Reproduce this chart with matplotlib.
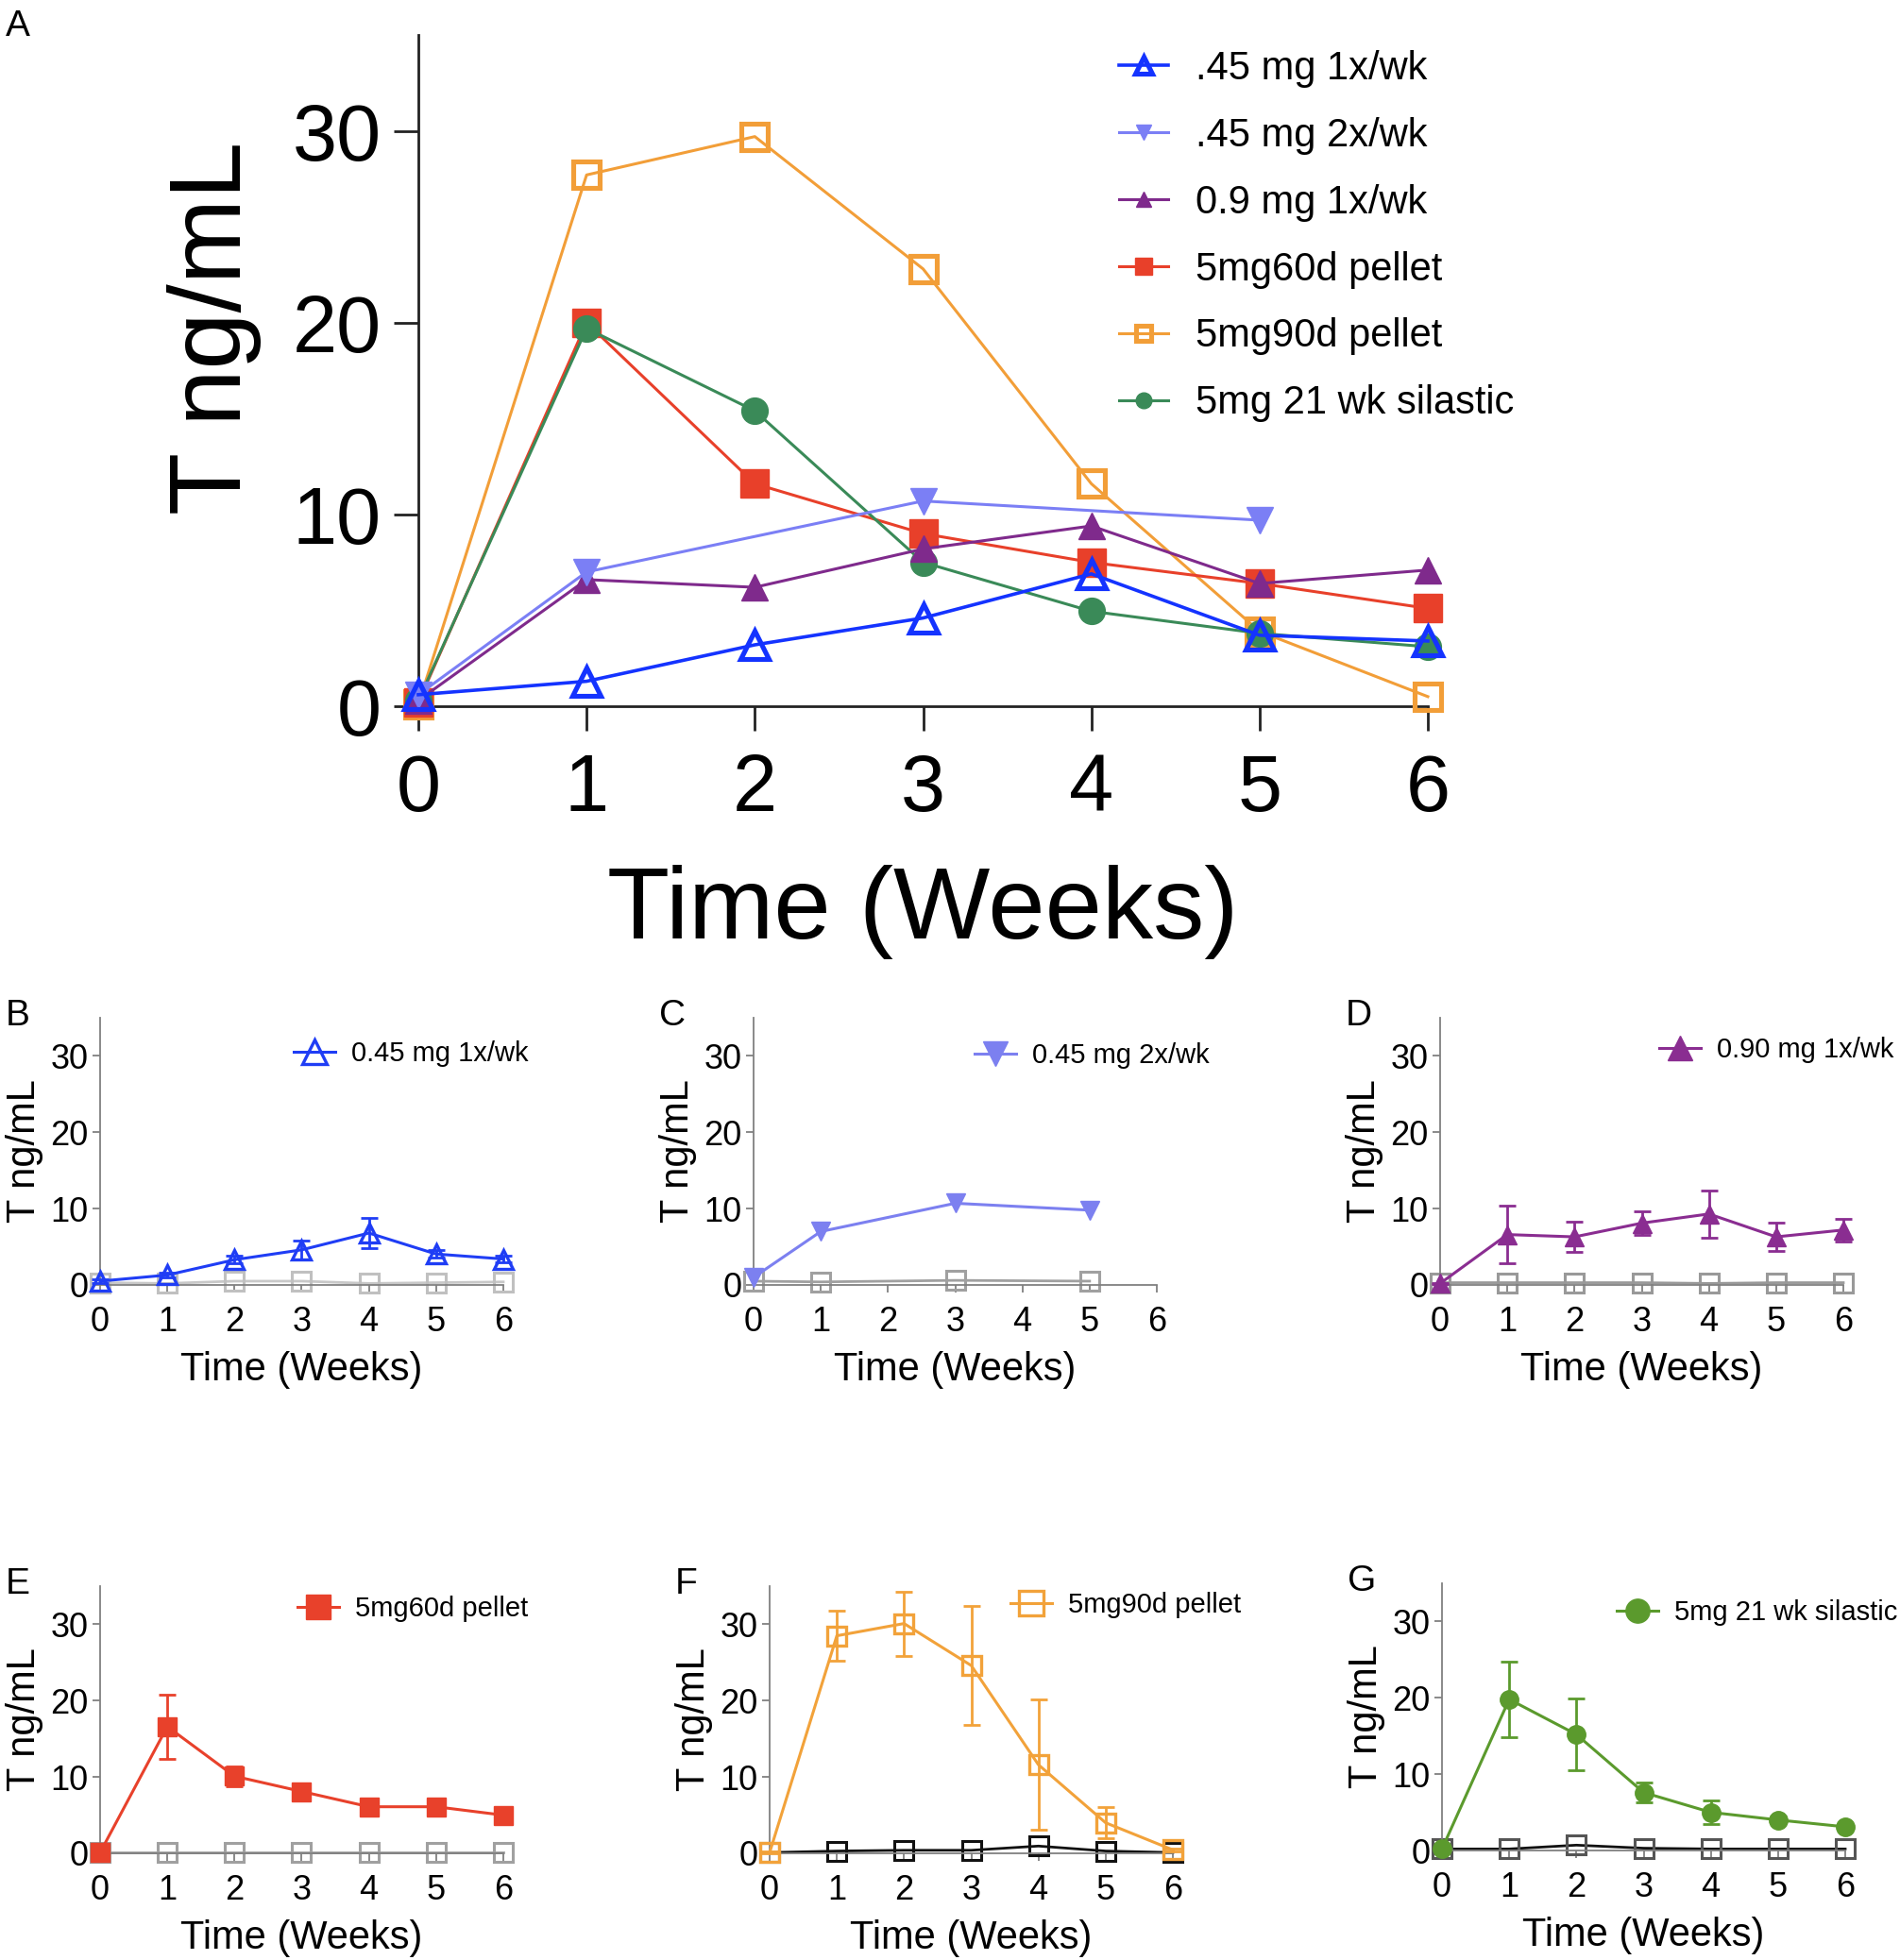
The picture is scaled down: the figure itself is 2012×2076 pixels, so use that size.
import matplotlib
matplotlib.use("Agg")
import matplotlib.pyplot as plt

plt.rcParams['font.family'] = ['Liberation Sans', 'DejaVu Sans']

W, H = 2012, 2076

weeks = [0, 1, 2, 3, 4, 5, 6]
weeks_2x = [0, 1, 3, 5]

# panel A, group means
a_045_1x = [0.6, 1.3, 3.2, 4.6, 6.9, 3.7, 3.4]
a_045_2x = [0.6, 7.0, 10.7, 9.7]
a_09_1x = [0.3, 6.6, 6.2, 8.2, 9.4, 6.4, 7.1]
a_60d = [0.2, 20.0, 11.6, 9.0, 7.5, 6.4, 5.1]
a_90d = [0.1, 27.7, 29.7, 22.8, 11.6, 3.9, 0.5]
a_sil = [0.3, 19.7, 15.4, 7.5, 4.95, 3.8, 3.1]

# panels B-G, mean, error and control
b_mean = [0.5, 1.3, 3.3, 4.6, 6.8, 4.05, 3.4]
b_err = [0.2, 0.3, 0.5, 1.2, 2.0, 0.5, 0.4]
b_ctrl = [0.3, 0.2, 0.5, 0.5, 0.2, 0.3, 0.4]

c_mean = [1.0, 7.0, 10.7, 9.8]
c_ctrl = [0.5, 0.4, 0.6, 0.5]

d_mean = [0.2, 6.6, 6.3, 8.1, 9.3, 6.3, 7.2]
d_err = [0.1, 3.8, 2.0, 1.6, 3.1, 1.9, 1.5]
d_ctrl = [0.3, 0.3, 0.3, 0.3, 0.2, 0.3, 0.3]

e_mean = [0.1, 16.6, 10.1, 8.1, 6.1, 6.1, 5.0]
e_err = [0.1, 4.2, 1.3, 0.6, 0.6, 1.1, 0.5]
e_ctrl = [0.1, 0.1, 0.1, 0.1, 0.1, 0.1, 0.1]

f_mean = [0.1, 28.5, 30.1, 24.6, 11.6, 4.0, 0.45]
f_err = [0.1, 3.3, 4.2, 7.8, 8.5, 2.0, 0.2]
f_ctrl = [0.1, 0.3, 0.4, 0.4, 0.95, 0.3, 0.1]

g_mean = [0.2, 19.8, 15.2, 7.6, 5.0, 4.0, 3.1]
g_err = [0.1, 4.9, 4.7, 1.3, 1.5, 0.4, 0.3]
g_ctrl = [0.2, 0.2, 0.7, 0.3, 0.2, 0.2, 0.2]


def px_axes(fig, left, right, y0, top):
    return fig.add_axes([left / W, 1 - y0 / H, (right - left) / W, (y0 - top) / H])


fig = plt.figure(figsize=(W / 100, H / 100), dpi=100)

# ---- panel A ----
ax = px_axes(fig, 443, 1512, 748, 37)
ax.plot(weeks, a_90d, color='#f29e38', marker='s', ms=20, mfc='none', mew=3.7, lw=2.2,
        label='5mg90d pellet', zorder=3, clip_on=False)
ax.plot(weeks, a_60d, color='#e8402a', marker='s', ms=21, lw=2.2,
        label='5mg60d pellet', zorder=4, clip_on=False)
ax.plot(weeks, a_sil, color='#3a8a58', marker='o', ms=20, lw=2.2,
        label='5mg 21 wk silastic', zorder=5, clip_on=False)
ax.plot(weeks, a_09_1x, color='#7f2a8c', marker='^', ms=20, lw=2.2,
        label='0.9 mg 1x/wk', zorder=6, clip_on=False)
ax.plot(weeks_2x, a_045_2x, color='#7b7ff5', marker='v', ms=20, lw=2.2,
        label='.45 mg 2x/wk', zorder=7, clip_on=False)
ax.plot(weeks, a_045_1x, color='#1433ff', marker='^', ms=21, mfc='none', mew=3.7, lw=2.6,
        label='.45 mg 1x/wk', zorder=8, clip_on=False)
ax.set_xlim(0, 6)
ax.set_ylim(0, 35)
ax.set_xticks(weeks)
ax.set_yticks([0, 10, 20, 30])
for s in ['top', 'right']:
    ax.spines[s].set_visible(False)
for s in ['left', 'bottom']:
    ax.spines[s].set_linewidth(2)
    ax.spines[s].set_color('#222222')
ax.tick_params(axis='both', labelsize=61, length=19, width=2, color='#222222')
ax.tick_params(axis='y', pad=9)
ax.tick_params(axis='x', pad=16)
ax.set_xlabel('Time (Weeks)', fontsize=78, labelpad=28)
ax.set_ylabel('T ng/mL', fontsize=78)
ax.yaxis.set_label_coords(-0.155, 0.564)
h, l = ax.get_legend_handles_labels()
order = ['.45 mg 1x/wk', '.45 mg 2x/wk', '0.9 mg 1x/wk', '5mg60d pellet', '5mg90d pellet', '5mg 21 wk silastic']
hh = [h[l.index(o)] for o in order]
fig.legend(hh, order, loc='upper left', bbox_to_anchor=(1185 / W, 1 - 53 / H), frameon=False,
           fontsize=30, handlelength=1.25, handletextpad=0.7, labelspacing=0.74,
           markerscale=0.6, borderpad=0, borderaxespad=0)
fig.text(6 / W, 1 - 10 / H, 'A', fontsize=28, va='top', ha='left')


# ---- small panels ----
def small_panel(left, y0, x, mean, err, ctrl, color, marker, label, ctrl_color, ctrl_edge,
                letter, leg_xy, mfc=None, xctrl=None):
    ax = px_axes(fig, left, left + 427, y0, y0 - 283)
    xc = x if xctrl is None else xctrl
    ax.plot(xc, ctrl, color=ctrl_color, marker='s', ms=14, mfc='none', mec=ctrl_edge, mew=2.2,
            lw=2, zorder=2, clip_on=False)
    if err is not None:
        ax.errorbar(x, mean, yerr=err, fmt='none', ecolor=color, capsize=6.5, elinewidth=2,
                    capthick=2, zorder=3, clip_on=False)
    kw = dict(color=color, marker=marker, ms=14, lw=2.2, zorder=4, clip_on=False)
    if mfc is not None:
        kw.update(mfc=mfc, mew=2.4)
    ax.plot(x, mean, label=label, **kw)
    ax.set_xlim(0, 6)
    ax.set_ylim(0, 35)
    ax.set_xticks(weeks)
    ax.set_yticks([0, 10, 20, 30])
    for s in ['top', 'right']:
        ax.spines[s].set_visible(False)
    for s in ['left', 'bottom']:
        ax.spines[s].set_linewidth(1.3)
        ax.spines[s].set_color('#808080')
    ax.tick_params(axis='both', labelsize=26, length=6, width=1.3, color='#808080')
    ax.tick_params(axis='y', pad=3)
    ax.tick_params(axis='x', pad=10)
    ax.set_xlabel('Time (Weeks)', fontsize=30, labelpad=9)
    ax.set_ylabel('T ng/mL', fontsize=30, labelpad=5)
    ax.legend(loc='center left', bbox_to_anchor=(leg_xy[0] / W, 1 - leg_xy[1] / H),
              bbox_transform=fig.transFigure, frameon=False, fontsize=21, markerscale=1.3,
              handlelength=1.5, handletextpad=0.6, borderpad=0, borderaxespad=0)
    fig.text((left - 100) / W, 1 - (y0 - 303) / H, letter, fontsize=28, va='top', ha='left')
    return ax


small_panel(106, 1361, weeks, b_mean, b_err, b_ctrl, '#1f3df5', '^', '0.45 mg 1x/wk',
            '#c8c8c8', '#c0c0c0', 'B', (311, 1116), mfc='none')
small_panel(798, 1361, weeks_2x, c_mean, None, c_ctrl, '#7c80f0', 'v', '0.45 mg 2x/wk',
            '#a0a0a0', '#a0a0a0', 'C', (1032, 1118))
small_panel(1525, 1361, weeks, d_mean, d_err, d_ctrl, '#8a2d91', '^', '0.90 mg 1x/wk',
            '#999999', '#999999', 'D', (1757, 1112))
small_panel(106, 1963, weeks, e_mean, e_err, e_ctrl, '#e8412b', 's', '5mg60d pellet',
            '#a0a0a0', '#a0a0a0', 'E', (315, 1704))
small_panel(815, 1963, weeks, f_mean, f_err, f_ctrl, '#f2a23a', 's', '5mg90d pellet',
            '#111111', '#111111', 'F', (1070, 1700), mfc='none')
small_panel(1527, 1960, weeks, g_mean, g_err, g_ctrl, '#5b9a2d', 'o', '5mg 21 wk silastic',
            '#111111', '#555555', 'G', (1712, 1708))

fig.savefig('out.png', dpi=100)
